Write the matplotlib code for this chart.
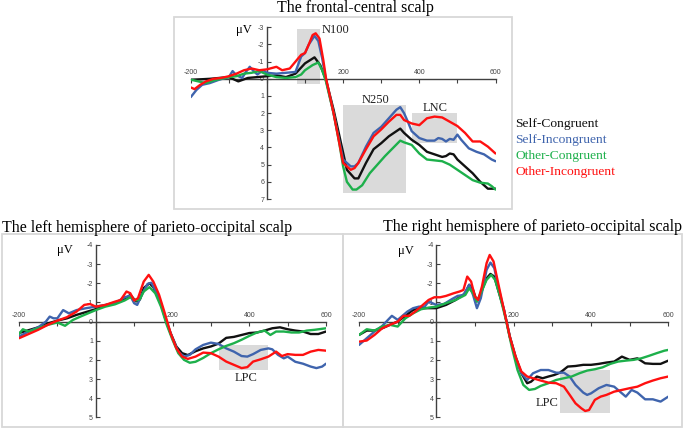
import matplotlib
matplotlib.use('Agg')
import matplotlib.pyplot as plt
from matplotlib.patches import Rectangle

# ---------------- data ----------------
conditions = ['Self-Congruent', 'Self-Incongruent', 'Other-Congruent', 'Other-Incongruent']
colors = ['#111111', '#3f64ad', '#1db04b', '#ff1010']

# frontal-central scalp
fc_sc_t = [-200,-150,-100,-75,-50,0,25,50,75,100,125,140,155,175,200,210,230,240,260,280,300,320,340,350,360,380,400,420,440,460,470,480,490,500,520,540,560,580,600]
fc_sc_v = [0.06,0.0,-0.1,0.15,-0.05,-0.15,-0.2,-0.1,-0.3,-0.9,-1.25,-0.8,0.05,1.8,4.3,5.3,5.8,5.8,4.9,4.1,3.75,3.35,3.05,2.9,3.15,3.55,3.85,4.25,4.4,4.55,4.5,4.35,4.4,4.7,5.1,5.5,6.0,6.4,6.4]
fc_si_t = [-200,-185,-170,-150,-125,-100,-90,-80,-65,-55,-45,-35,-25,-10,0,25,50,75,90,100,110,125,135,145,155,175,200,220,230,240,260,280,300,320,340,350,360,370,380,400,420,440,450,460,470,480,490,500,510,530,550,570,590,600]
fc_si_v = [1.07,0.65,0.35,0.25,0.05,-0.1,-0.45,-0.2,-0.05,-0.4,-0.7,-0.45,-0.25,-0.5,-0.35,-0.3,-0.35,-0.4,-1.3,-1.5,-2.0,-2.5,-2.2,-1.2,0.05,2.0,4.7,5.1,5.1,4.9,3.95,3.15,2.8,2.3,1.8,1.65,2.0,2.5,3.05,3.45,3.6,3.6,3.45,3.5,3.65,3.5,3.55,3.25,3.55,4.05,4.25,4.4,4.7,4.8]
fc_oc_t = [-200,-180,-160,-140,-120,-100,-80,-60,-40,-20,0,25,50,75,90,100,120,135,145,155,175,190,200,210,225,235,250,270,290,310,330,350,360,380,400,420,440,460,480,500,520,540,560,580,590,600]
fc_oc_v = [0.05,0.15,0.25,0.1,0.0,-0.1,-0.15,-0.3,-0.35,-0.45,-0.25,-0.1,-0.05,-0.1,-0.25,-0.5,-0.8,-0.95,-0.5,0.15,2.0,3.75,5.1,6.0,6.45,6.45,6.2,5.5,5.0,4.5,4.05,3.6,3.7,3.85,4.35,4.7,4.75,4.8,5.0,5.3,5.6,5.9,6.05,6.1,6.25,6.45]
fc_oi_t = [-200,-190,-175,-160,-140,-120,-100,-80,-60,-40,-20,0,25,40,60,75,90,100,110,120,128,138,148,155,175,200,220,230,240,260,280,300,320,340,350,360,380,400,420,440,460,480,500,520,540,560,580,600]
fc_oi_v = [0.5,0.6,0.35,0.15,0.0,-0.05,-0.15,-0.3,-0.5,-0.6,-0.5,-0.55,-0.7,-0.5,-0.6,-1.0,-1.4,-1.5,-2.0,-2.55,-2.65,-2.35,-1.1,-0.05,2.0,4.9,5.3,5.2,4.9,4.1,3.35,2.95,2.5,2.1,2.1,2.4,2.6,2.7,2.3,2.2,2.25,2.5,2.75,3.15,3.65,3.65,3.95,4.35]

# left hemisphere of parieto-occipital scalp
lh_sc_t = [-200,-175,-150,-125,-100,-75,-50,-25,0,25,50,75,90,105,115,125,140,150,165,180,195,210,225,240,260,280,300,320,340,360,380,400,420,440,460,480,500,520,540,560,580,600]
lh_sc_v = [0.6,0.45,0.3,0.1,-0.05,-0.17,-0.35,-0.5,-0.65,-0.85,-1.0,-1.15,-1.4,-1.05,-1.15,-1.75,-2.0,-1.8,-1.2,-0.25,0.6,1.3,1.65,1.75,1.55,1.4,1.3,1.15,0.85,0.8,0.7,0.6,0.57,0.47,0.35,0.3,0.4,0.47,0.52,0.65,0.65,0.52]
lh_si_t = [-200,-175,-150,-130,-120,-110,-100,-85,-70,-50,-25,0,25,50,75,90,100,108,120,135,145,155,170,185,200,215,230,245,260,280,300,320,340,360,380,395,410,430,450,460,475,490,500,520,540,560,575,590,600]
lh_si_v = [0.78,0.52,0.3,0.0,-0.26,-0.17,-0.17,-0.6,-0.43,-0.6,-0.7,-0.78,-0.87,-0.96,-1.27,-1.35,-0.96,-0.87,-1.4,-1.97,-2.03,-1.65,-0.96,0.09,0.87,1.57,1.83,1.74,1.45,1.22,1.1,1.17,1.4,1.57,1.8,1.83,1.7,1.48,1.4,1.45,1.74,1.92,1.83,2.1,2.2,2.35,2.43,2.35,2.2]
lh_oc_t = [-200,-190,-175,-150,-125,-100,-80,-60,-40,-20,0,25,50,75,90,105,115,125,140,155,170,185,200,215,230,245,260,280,300,320,340,360,380,400,420,440,455,470,490,510,530,550,570,600]
lh_oc_v = [0.65,0.4,0.52,0.35,0.17,0.05,0.22,-0.08,-0.26,-0.43,-0.6,-0.78,-0.9,-1.1,-1.27,-1.1,-1.17,-1.57,-1.8,-1.48,-0.78,0.17,0.95,1.65,2.0,2.15,2.1,1.9,1.65,1.45,1.27,1.13,0.95,0.75,0.57,0.47,0.7,0.52,0.52,0.57,0.57,0.47,0.43,0.35]
lh_oi_t = [-200,-175,-150,-125,-100,-75,-50,-30,-15,0,25,50,65,80,90,100,110,125,138,150,165,180,195,210,225,240,260,280,300,320,340,360,380,395,410,430,450,470,485,500,520,540,560,580,600]
lh_oi_v = [0.87,0.65,0.43,0.17,-0.05,-0.23,-0.52,-0.87,-0.92,-0.78,-0.87,-1.04,-1.13,-1.57,-1.48,-1.1,-1.22,-2.09,-2.44,-2.09,-1.4,-0.43,0.6,1.39,1.83,1.95,1.83,1.62,1.65,1.83,2.09,2.26,2.43,2.38,2.09,1.97,1.83,1.57,1.8,1.7,1.74,1.74,1.57,1.48,1.52]

# right hemisphere of parieto-occipital scalp
rh_sc_t = [-200,-180,-160,-140,-120,-100,-80,-60,-40,-20,0,25,50,75,85,95,105,115,130,140,150,160,175,190,205,220,235,245,260,275,290,305,320,340,360,380,400,420,440,460,480,500,520,540,560,580,600]
rh_sc_v = [0.7,0.47,0.47,0.35,0.17,0.0,-0.3,-0.61,-0.7,-0.7,-0.7,-0.87,-1.13,-1.48,-1.92,-1.65,-1.05,-1.48,-2.26,-2.49,-2.35,-1.65,-0.61,0.78,1.83,2.7,3.22,3.14,2.87,2.96,2.87,2.79,2.67,2.35,2.32,2.26,2.26,2.21,2.14,2.09,1.83,2.0,1.92,2.18,2.21,2.21,2.04]
rh_si_t = [-200,-180,-160,-140,-125,-115,-100,-90,-75,-60,-45,-30,-20,0,20,40,55,70,85,95,105,115,130,140,150,160,175,190,205,220,235,250,270,290,310,330,345,360,380,390,400,420,440,460,475,490,505,520,540,560,580,600]
rh_si_v = [1.22,0.87,0.52,0.23,-0.09,-0.3,-0.09,-0.26,-0.52,-0.7,-0.78,-0.78,-1.05,-0.87,-0.92,-1.17,-1.34,-1.39,-1.92,-1.39,-0.7,-1.22,-2.7,-3.08,-2.79,-1.83,-0.61,0.78,1.92,2.7,3.05,2.7,2.53,2.53,2.67,2.67,2.87,3.31,3.71,3.83,3.75,3.48,3.31,3.4,3.66,3.92,3.57,3.71,4.06,4.06,4.18,3.92]
rh_oc_t = [-200,-180,-160,-140,-120,-100,-80,-60,-40,-20,0,25,50,75,85,95,105,115,130,142,152,165,180,195,210,225,240,255,270,290,310,330,350,370,390,410,430,450,470,490,510,530,550,570,590,600]
rh_oc_v = [0.7,0.4,0.47,0.26,0.17,0.26,-0.17,-0.43,-0.64,-0.73,-0.78,-0.96,-1.13,-1.39,-1.74,-1.48,-1.05,-1.48,-2.18,-2.44,-2.18,-1.3,-0.09,1.31,2.53,3.31,3.57,3.52,3.36,3.22,3.05,2.96,2.87,2.7,2.56,2.49,2.39,2.21,2.09,2.04,2.0,1.92,1.79,1.65,1.52,1.48]
rh_oi_t = [-200,-180,-160,-140,-120,-100,-85,-70,-55,-40,-20,-5,10,25,45,60,70,80,90,100,108,118,130,138,148,160,175,190,205,220,235,250,270,290,310,330,345,360,375,385,395,410,425,440,460,480,500,520,540,560,580,600]
rh_oi_v = [1.05,0.99,0.7,0.35,0.17,0.0,-0.3,-0.3,-0.52,-0.78,-1.13,-1.27,-1.27,-1.34,-1.48,-1.57,-1.65,-2.35,-2.09,-1.3,-1.13,-1.83,-3.05,-3.48,-3.14,-2.0,-0.61,0.78,1.83,2.61,2.87,2.96,3.08,3.19,3.22,3.4,3.83,4.27,4.53,4.67,4.62,4.09,3.92,3.83,3.66,3.57,3.48,3.4,3.22,3.08,2.96,2.87]

titles = ['The frontal-central scalp',
          'The left hemisphere of parieto-occipital scalp',
          'The right hemisphere of parieto-occipital scalp']
x_ticks = [-200, -100, 0, 100, 200, 300, 400, 500, 600]
x_ticklabels = ['-200', '', '', '', '200', '', '400', '', '600']
fc_yticks = list(range(-3, 8))
po_yticks = list(range(-4, 6))

# regions of interest: (label, t_start, t_end, uV_top, uV_bottom, label_t, label_uV)
fc_rois = [('N100', 80, 140, -2.9, 0.3, 180, -2.85),
           ('N250', 200, 365, 1.5, 6.65, 284, 1.22),
           ('LNC', 380, 500, 2.0, 3.75, 441, 1.72)]
lh_rois = [('LPC', 320, 450, 1.2, 2.55, 391, 2.96)]
rh_rois = [('LPC', 320, 450, 2.55, 4.8, 286, 4.27)]

# ---------------- figure ----------------
W, H = 685, 428
fig = plt.figure(figsize=(W / 100, H / 100), dpi=100)
fig.patch.set_facecolor('white')
SERIF = 'Liberation Serif'
SANS = 'Liberation Sans'


def px_axes(x0, x1, y0, y1):
    return fig.add_axes([x0 / W, 1 - y1 / H, (x1 - x0) / W, (y1 - y0) / H])


def frame(x0, x1, y0, y1):
    fig.add_artist(Rectangle((x0 / W, 1 - y1 / H), (x1 - x0) / W, (y1 - y0) / H,
                             transform=fig.transFigure, fill=False,
                             edgecolor='#d8d8d8', linewidth=1.3))


def panel(ax, yticks, series, rois):
    ax.set_xlim(-200, 600)
    ax.set_ylim(yticks[-1], yticks[0])
    ax.patch.set_alpha(0)
    for s in ('right', 'bottom'):
        ax.spines[s].set_visible(False)
    ax.spines['left'].set_position(('data', 0))
    ax.spines['top'].set_position(('data', 0))
    for s in ('left', 'top'):
        ax.spines[s].set_color('#404040')
        ax.spines[s].set_linewidth(1.0)
    ax.xaxis.set_ticks_position('top')
    ax.yaxis.set_ticks_position('left')
    ax.set_xticks(x_ticks, labels=x_ticklabels)
    ax.set_yticks(yticks, labels=[str(v) for v in yticks])
    ax.tick_params(axis='both', direction='in', length=3, width=0.8, color='#404040',
                   labelsize=5, labelcolor='#444444', pad=2)
    for lab in ax.get_xticklabels() + ax.get_yticklabels():
        lab.set_family(SANS)
    for (lab, t0, t1, u0, u1, lt, lu) in rois:
        ax.add_patch(Rectangle((t0, u0), t1 - t0, u1 - u0, facecolor='#dadada',
                               edgecolor='none', zorder=0))
        ax.text(lt, lu, lab, family=SERIF, fontsize=9, ha='center', va='center',
                color='#222222')
    for (t, v), c in zip(series, colors):
        ax.plot(t, v, color=c, linewidth=1.7, solid_joinstyle='round',
                solid_capstyle='round', zorder=3)


# frames
frame(174, 512, 17, 209)
frame(2, 343, 234, 427)
frame(343, 682, 234, 427)

ax_fc = px_axes(190.7, 495.5, 27.3, 199)
panel(ax_fc, fc_yticks,
      [(fc_sc_t, fc_sc_v), (fc_si_t, fc_si_v), (fc_oc_t, fc_oc_v), (fc_oi_t, fc_oi_v)],
      fc_rois)
ax_lh = px_axes(19, 326, 245, 417.3)
panel(ax_lh, po_yticks,
      [(lh_sc_t, lh_sc_v), (lh_si_t, lh_si_v), (lh_oc_t, lh_oc_v), (lh_oi_t, lh_oi_v)],
      lh_rois)
ax_rh = px_axes(359, 668.3, 245, 417.3)
panel(ax_rh, po_yticks,
      [(rh_sc_t, rh_sc_v), (rh_si_t, rh_si_v), (rh_oc_t, rh_oc_v), (rh_oi_t, rh_oi_v)],
      rh_rois)

# microvolt labels
fig.text(244 / W, 1 - 30 / H, 'μV', family=SERIF, fontsize=9, ha='center', va='center')
fig.text(65 / W, 1 - 250 / H, 'μV', family=SERIF, fontsize=9, ha='center', va='center')
fig.text(405.5 / W, 1 - 251 / H, 'μV', family=SERIF, fontsize=9, ha='center', va='center')

# titles
fig.text(355 / W, 1 - 7.5 / H, titles[0], family=SERIF, fontsize=11.5,
         ha='center', va='center')
fig.text(2 / W, 1 - 228 / H, titles[1], family=SERIF, fontsize=11.5,
         ha='left', va='center')
fig.text(682 / W, 1 - 227 / H, titles[2], family=SERIF, fontsize=11.5,
         ha='right', va='center')

# legend
for i, (name, c) in enumerate(zip(conditions, colors)):
    fig.text(515 / W, 1 - (124 + 16.1 * i) / H, name, family=SERIF,
             fontsize=9.7, color=c, ha='left', va='center')

fig.savefig('out.png', dpi=100, facecolor='white')
